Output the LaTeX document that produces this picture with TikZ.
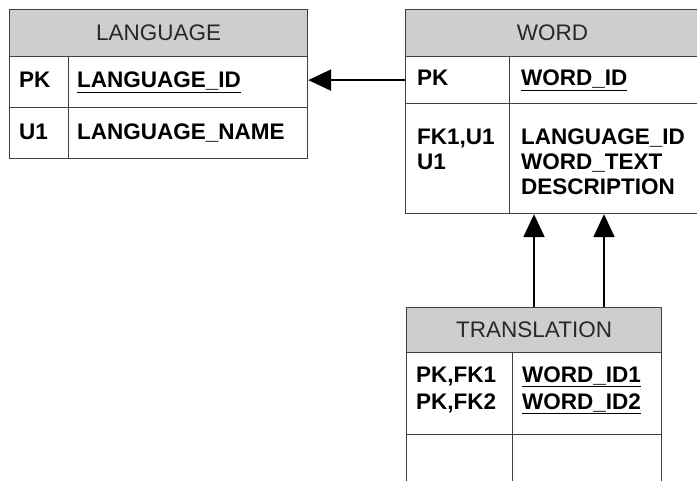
\documentclass[tikz,border=0pt]{standalone}
\usepackage{fontspec}
\setmainfont{Liberation Sans}
\usetikzlibrary{positioning,arrows.meta}
\definecolor{tabline}{RGB}{64,64,64}
\definecolor{hdrgray}{RGB}{206,206,206}
\definecolor{hdrtext}{RGB}{40,40,40}
\tikzset{
  hdr/.style n args={2}{draw=tabline, fill=hdrgray, line width=1.2bp, anchor=north west, inner sep=0pt, minimum width=#1, minimum height=#2, text=hdrtext, font=\fontsize{22.5bp}{27bp}\selectfont},
  cell/.style n args={2}{draw=tabline, fill=white, line width=1.2bp, anchor=north west, inner sep=0pt, minimum width=#1, minimum height=#2},
  fld/.style ={anchor=base west, inner sep=0pt, font=\fontsize{22.5bp}{27bp}\selectfont\bfseries},
  fk/.style  ={-{Triangle[length=23bp,width=21bp]}, line width=2.2bp},
}

\begin{document}
\begin{tikzpicture}[x=1bp, y=-1bp]
  \useasboundingbox (0,0) rectangle (697,481);

  % LANGUAGE
  \node[cell={59bp}{51bp}]  (langpkkey) at (9,56)   {};
  \node[cell={239bp}{51bp}] (langpk)    at (68,56)  {};
  \node[cell={59bp}{51bp}]  (langukey)  at (9,107)  {};
  \node[cell={239bp}{51bp}] (langu)     at (68,107) {};
  \node[hdr={298bp}{47bp}]  (langhd)    at (9,9)    {LANGUAGE};
  \node[fld] (lk1) at (19,88)  {PK};
  \node[fld] (lf1) at (77,88)  {\underline{LANGUAGE\_ID}};
  \node[fld] (lk2) at (19,140) {U1};
  \node[fld] (lf2) at (77,140) {LANGUAGE\_NAME};

  % WORD
  \node[cell={104bp}{47bp}]  (wordpk)      at (405,56)  {};
  \node[cell={190bp}{47bp}]  (wordpkval)   at (509,56)  {};
  \node[cell={104bp}{110bp}] (wordrestkey) at (405,103) {};
  \node[cell={190bp}{110bp}] (wordrest)    at (509,103) {};
  \node[hdr={294bp}{47bp}]   (wordhd)      at (405,9)   {WORD};
  \node[fld] (wk1) at (417,86)  {PK};
  \node[fld] (wf1) at (521,86)  {\underline{WORD\_ID}};
  \node[fld] (wk2) at (417,145) {FK1,U1};
  \node[fld] (wk3) at (417,170) {U1};
  \node[fld] (wf2) at (521,145) {LANGUAGE\_ID};
  \node[fld] (wf3) at (521,170) {WORD\_TEXT};
  \node[fld] (wf4) at (521,195) {DESCRIPTION};

  % TRANSLATION
  \node[cell={106bp}{82bp}]  (trpkkey) at (406,352) {};
  \node[cell={149bp}{82bp}]  (trpk)    at (512,352) {};
  \node[cell={106bp}{60bp}]  (trekey)  at (406,434) {};
  \node[cell={149bp}{60bp}]  (tre)     at (512,434) {};
  \node[hdr={255bp}{45bp}]   (trhd)    at (406,307) {TRANSLATION};
  \node[fld] (tk1) at (416,382) {PK,FK1};
  \node[fld] (tk2) at (416,409) {PK,FK2};
  \node[fld] (tf1) at (522,382) {\underline{WORD\_ID1}};
  \node[fld] (tf2) at (522,409) {\underline{WORD\_ID2}};

  % relations
  \coordinate (fk1) at ([xshift=128bp]trhd.north west);
  \coordinate (fk2) at ([xshift=198bp]trhd.north west);
  \draw[fk] (wordpk.west) -- (wordpk.west -| langpk.east);
  \draw[fk] (fk1) -- (fk1 |- wordrest.south);
  \draw[fk] (fk2) -- (fk2 |- wordrest.south);
\end{tikzpicture}
\end{document}
